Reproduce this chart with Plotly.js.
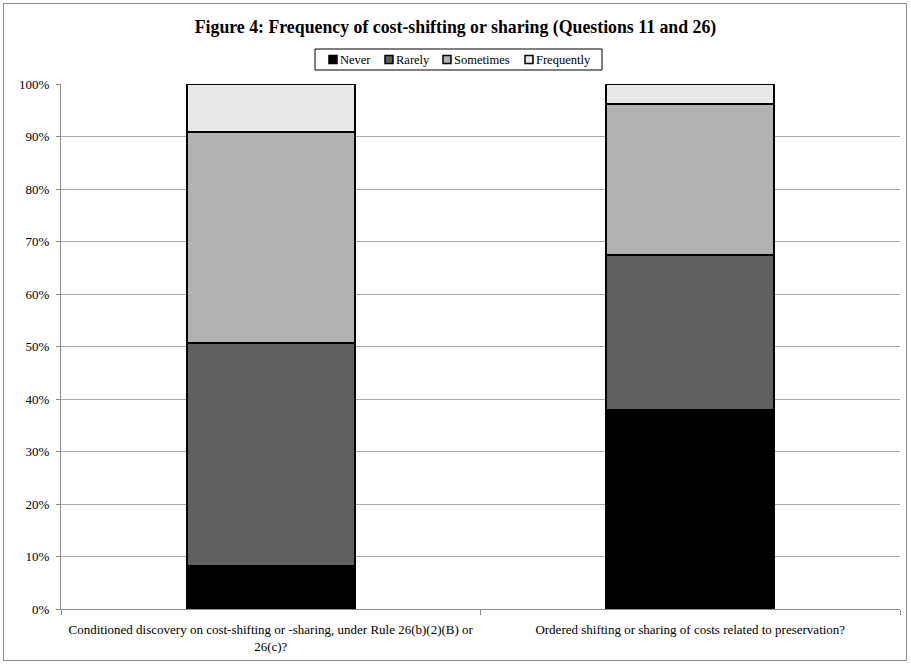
<!DOCTYPE html>
<html>
<head>
<meta charset="utf-8">
<script src="https://cdn.plot.ly/plotly-3.0.1.min.js"></script>
<style>
  html, body { margin: 0; padding: 0; background: #fff; }
  #wrap { position: relative; width: 911px; height: 665px; }
  #chart { width: 911px; height: 665px; }
  #frame { position: absolute; left: 3px; top: 3px; width: 902px; height: 656px;
           border: 1px solid #8c8c8c; pointer-events: none; }
</style>
</head>
<body>
<div id="wrap">
  <div id="chart"></div>
  <div id="frame"></div>
</div>
<script>
// Survey questions (x categories)
const questions = [
  "Conditioned discovery on cost-shifting or -sharing, under Rule 26(b)(2)(B) or<br>26(c)?",
  "Ordered shifting or sharing of costs related to preservation?"
];

// Share of responses (percent) per answer
const never      = [8.2, 37.9];
const rarely     = [42.4, 29.6];
const sometimes  = [40.2, 28.7];
const frequently = [9.2, 3.8];

const seriesNames  = ["Never", "Rarely", "Sometimes", "Frequently"];
const seriesValues = [never, rarely, sometimes, frequently];
const seriesColors = ["#000000", "#606060", "#b2b2b2", "#e8e8e8"];

const serif = "Liberation Serif";

const traces = seriesNames.map((name, i) => ({
  type: "bar",
  name: name,
  x: questions,
  y: seriesValues[i],
  marker: { color: seriesColors[i], line: { color: "#000", width: 2 } },
  hoverinfo: "name+y"
}));

// Compact boxed legend drawn in pixel space above the plot area
const W = 911, H = 665;
const M = { l: 61, r: 11, t: 84, b: 56 };
const pw = W - M.l - M.r, ph = H - M.t - M.b;
const px = x => (x - M.l) / pw;           // page x -> paper x
const py = y => (H - M.b - y) / ph;       // page y -> paper y

const legendBox = { x0: 315, x1: 602, y0: 49, y1: 70 };
const legendSwatchX = [329, 385, 443, 525];
const legendMidY = 59.5;
const sw = 8;

const shapes = [{
  type: "rect", xref: "paper", yref: "paper",
  x0: px(legendBox.x0), x1: px(legendBox.x1),
  y0: py(legendBox.y1), y1: py(legendBox.y0),
  line: { color: "#000", width: 1 }, fillcolor: "#fff", layer: "above"
}];
const annotations = [];
seriesNames.forEach((name, i) => {
  const sx = legendSwatchX[i];
  shapes.push({
    type: "rect", xref: "paper", yref: "paper",
    x0: px(sx), x1: px(sx + sw),
    y0: py(legendMidY + sw / 2), y1: py(legendMidY - sw / 2),
    line: { color: "#000", width: 1.5 }, fillcolor: seriesColors[i], layer: "above"
  });
  annotations.push({
    xref: "paper", yref: "paper",
    x: px(sx + sw + 1), y: py(legendMidY),
    xanchor: "left", yanchor: "middle",
    text: name, showarrow: false,
    font: { family: serif, size: 12.5, color: "#000" }
  });
});

const layout = {
  width: W,
  height: H,
  margin: M,
  paper_bgcolor: "#fff",
  plot_bgcolor: "#fff",
  barmode: "stack",
  bargap: 0.6,
  font: { family: serif, color: "#000" },
  title: {
    text: "<b>Figure 4: Frequency of cost-shifting or sharing (Questions 11 and 26)</b>",
    font: { family: serif, size: 17.8, color: "#000" },
    x: 0.5, xanchor: "center",
    y: 1 - 27 / H, yanchor: "middle", yref: "container"
  },
  showlegend: false,
  shapes: shapes,
  annotations: annotations,
  xaxis: {
    type: "category",
    showline: true, linecolor: "#8c8c8c", linewidth: 1,
    ticks: "outside", tickson: "boundaries", ticklen: 5, tickcolor: "#8c8c8c",
    ticklabelstandoff: 8,
    tickfont: { family: serif, size: 13, color: "#000" },
    showgrid: false, fixedrange: true
  },
  yaxis: {
    range: [0, 100],
    dtick: 10,
    ticksuffix: "%",
    showline: true, linecolor: "#8c8c8c", linewidth: 1,
    ticks: "outside", ticklen: 4, tickcolor: "#8c8c8c",
    ticklabelstandoff: 4,
    gridcolor: "#a8a8a8", gridwidth: 1,
    zeroline: false,
    tickfont: { family: serif, size: 13, color: "#000" },
    fixedrange: true
  }
};

Plotly.newPlot("chart", traces, layout, { displayModeBar: false, staticPlot: true });
</script>
</body>
</html>
